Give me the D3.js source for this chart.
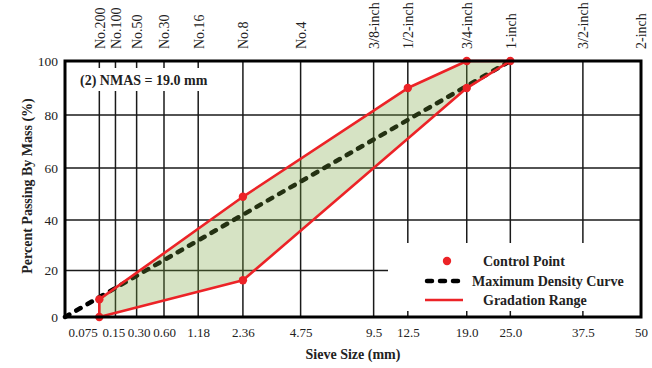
<!DOCTYPE html>
<html>
<head>
<meta charset="utf-8">
<script src="https://cdn.jsdelivr.net/npm/d3@7"></script>
<style>
  body { margin: 0; background: #fff; }
  svg { display: block; }
  text { font-family: "Liberation Serif", "Times New Roman", serif; fill: #222; }
</style>
</head>
<body>
<svg id="chart" width="652" height="368"></svg>
<script>
// ---- data ----
const sieveSizes = [0.075, 0.15, 0.30, 0.60, 1.18, 2.36, 4.75, 9.5, 12.5, 19.0, 25.0, 37.5, 50];
const sieveNames = ["No.200", "No.100", "No.50", "No.30", "No.16", "No.8", "No.4",
                    "3/8-inch", "1/2-inch", "3/4-inch", "1-inch", "3/2-inch", "2-inch"];
const sizeLabels = ["0.075", "0.15", "0.30", "0.60", "1.18", "2.36", "4.75",
                    "9.5", "12.5", "19.0", "25.0", "37.5", "50"];
const percentTicks = [0, 20, 40, 60, 80, 100];

const controlSizes  = [0.075, 0.075, 2.36, 2.36, 12.5, 19.0, 19.0, 25.0];
const controlValues = [0, 8, 16, 49, 90, 90, 100, 100];

const upperSizes  = [0.075, 2.36, 12.5, 19.0, 25.0];
const upperValues = [8, 49, 90, 100, 100];
const lowerSizes  = [0.075, 2.36, 19.0, 25.0];
const lowerValues = [0, 16, 90, 100];

const mdcSizes  = [0, 25.0];
const mdcValues = [0, 100];

const nmasText = "(2) NMAS = 19.0 mm";
const legendLabels = ["Control Point", "Maximum Density Curve", "Gradation Range"];

// ---- layout ----
const svg = d3.select("#chart");
const L = 65, T = 61, R = 641, B = 317;
const RED = "#ec2327";
const SHIFT = 0.01; // small origin offset of the power-scale sieve axis

const xPow = d3.scalePow().exponent(0.35).domain([SHIFT, 50 + SHIFT]).range([L, R]);
const x = s => xPow(s + SHIFT);
const y = d3.scalePow().exponent(1.06).domain([0, 100]).range([B, T]);

// grid
const grid = svg.append("g").attr("stroke", "#1a1a1a").attr("stroke-width", 1.5);
grid.selectAll("line.v").data(sieveSizes).join("line")
  .attr("x1", d => x(d)).attr("x2", d => x(d))
  .attr("y1", T).attr("y2", B);
grid.selectAll("line.h").data(percentTicks.slice(1, -1)).join("line")
  .attr("x1", L).attr("x2", R)
  .attr("y1", d => y(d)).attr("y2", d => y(d));

// maximum density curve
const mdc = mdcSizes.map((s, i) => [s, mdcValues[i]]);
svg.append("path")
  .attr("d", d3.line().x(d => x(d[0])).y(d => y(d[1]))(mdc))
  .attr("fill", "none").attr("stroke", "#000").attr("stroke-width", 4.5)
  .attr("stroke-dasharray", "5,8").attr("stroke-linecap", "round");

// gradation band
const upper = upperSizes.map((s, i) => [s, upperValues[i]]);
const lower = lowerSizes.map((s, i) => [s, lowerValues[i]]);
const band = upper.concat(lower.slice().reverse());
svg.append("path")
  .attr("d", d3.line().x(d => x(d[0])).y(d => y(d[1]))(band) + "Z")
  .attr("fill", "rgb(118,162,58)").attr("fill-opacity", 0.3)
  .attr("stroke", RED).attr("stroke-width", 2.6).attr("stroke-linejoin", "round");

// control points
svg.selectAll("circle.cp").data(controlSizes.map((s, i) => [s, controlValues[i]])).join("circle")
  .attr("cx", d => x(d[0])).attr("cy", d => y(d[1])).attr("r", 4.2).attr("fill", RED);

// white boxes (text and legend)
svg.append("rect").attr("x", L + 1).attr("y", 68).attr("width", 150).attr("height", 23).attr("fill", "#fff");
svg.append("rect").attr("x", 388).attr("y", 243).attr("width", R - 388 - 1).attr("height", 68).attr("fill", "#fff");

// frame
svg.append("rect").attr("x", L).attr("y", T).attr("width", R - L).attr("height", B - T)
  .attr("fill", "none").attr("stroke", "#000").attr("stroke-width", 3);

// NMAS note
svg.append("text").attr("x", 80).attr("y", 85)
  .attr("font-size", 14).attr("font-weight", "bold").text(nmasText);

// bottom axis
const bottomAxis = svg.append("g").attr("transform", `translate(0,${B})`)
  .call(d3.axisBottom(xPow).tickValues(sieveSizes.map(s => s + SHIFT))
    .tickFormat((d, i) => sizeLabels[i]).tickSize(0).tickPadding(11));
bottomAxis.select(".domain").remove();
bottomAxis.selectAll("text").attr("font-size", 13).attr("fill", "#222")
  .attr("font-family", "Liberation Serif, serif");
bottomAxis.selectAll("text").filter((d, i) => i === 0).attr("text-anchor", "end").attr("dx", -2);
bottomAxis.selectAll("text").filter((d, i) => i === 1).attr("dx", -2);
bottomAxis.selectAll("text").filter((d, i) => i === 2).attr("dx", 2);

// top axis (sieve names)
const topAxis = svg.append("g").attr("transform", `translate(0,${T})`)
  .call(d3.axisTop(xPow).tickValues(sieveSizes.map(s => s + SHIFT))
    .tickFormat((d, i) => sieveNames[i]).tickSize(0));
topAxis.select(".domain").remove();
topAxis.selectAll("text")
  .attr("x", 0).attr("y", 0).attr("dy", "0.35em")
  .attr("transform", "translate(0,-12) rotate(-90)")
  .attr("text-anchor", "start")
  .attr("font-size", 14).attr("fill", "#222")
  .attr("font-family", "Liberation Serif, serif");

// left axis
const leftAxis = svg.append("g").attr("transform", `translate(${L},0)`)
  .call(d3.axisLeft(y).tickValues(percentTicks).tickSize(0).tickPadding(7));
leftAxis.select(".domain").remove();
leftAxis.selectAll("text").attr("font-size", 13.5).attr("fill", "#222")
  .attr("font-family", "Liberation Serif, serif");

// axis titles
svg.append("text").attr("x", 353).attr("y", 359).attr("text-anchor", "middle")
  .attr("font-size", 14).attr("font-weight", "bold").text("Sieve Size (mm)");
svg.append("text").attr("transform", "translate(32,186) rotate(-90)").attr("text-anchor", "middle")
  .attr("font-size", 14).attr("font-weight", "bold").text("Percent Passing By Mass (%)");

// legend
const lg = svg.append("g");
lg.append("circle").attr("cx", 447).attr("cy", 261).attr("r", 4.2).attr("fill", RED);
lg.append("line").attr("x1", 427).attr("x2", 463).attr("y1", 281).attr("y2", 281)
  .attr("stroke", "#000").attr("stroke-width", 4.5).attr("stroke-dasharray", "5,8")
  .attr("stroke-linecap", "round");
lg.append("line").attr("x1", 425).attr("x2", 463).attr("y1", 300).attr("y2", 300)
  .attr("stroke", RED).attr("stroke-width", 2.6);
const lgX = [483, 472, 483];
const lgY = [266, 286, 305];
lg.selectAll("text").data(legendLabels).join("text")
  .attr("x", (d, i) => lgX[i]).attr("y", (d, i) => lgY[i])
  .attr("font-size", 14).attr("font-weight", "bold").text(d => d);
</script>
</body>
</html>
